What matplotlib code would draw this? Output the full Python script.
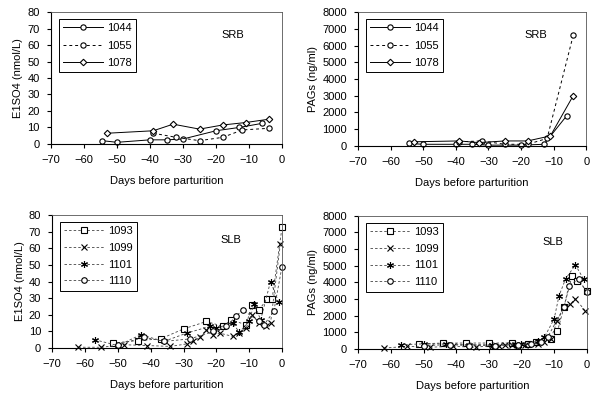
import matplotlib
matplotlib.use("Agg")
import matplotlib.pyplot as plt

plt.rcParams['font.family'] = 'Liberation Sans'
plt.rcParams['font.size'] = 8
plt.rcParams['axes.linewidth'] = 0.8

# --- SRB cows (top row) ---
srb_ids = ['1044', '1055', '1078']
srb_days = {
    '1044': [-54.5, -50, -40, -35, -30, -20, -13, -6],
    '1055': [-39, -32, -25, -18, -12, -4],
    '1078': [-53, -39, -33, -25, -18, -11, -4],
}
srb_e1so4 = {
    '1044': [2, 1, 2.5, 2.5, 3, 8, 10, 12.5],
    '1055': [6.5, 4, 2, 4, 8.5, 9.5],
    '1078': [6.5, 8, 12, 9, 11.5, 13, 15],
}
srb_pags = {
    '1044': [150, 100, 100, 100, 50, 50, 100, 1800],
    '1055': [250, 300, 100, 100, 450, 6600],
    '1078': [250, 300, 200, 300, 300, 600, 3000],
}

# --- SLB cows (bottom row) ---
slb_ids = ['1093', '1099', '1101', '1110']
slb_days = {
    '1093': [-51.5, -44, -37, -30, -23, -18, -15.5, -11, -9, -7, -4.5, -3, 0],
    '1099': [-62, -55, -48, -41, -34, -29, -27, -25, -23, -21, -19, -15, -13, -11, -9, -7, -5, -3.5, -0.5],
    '1101': [-57, -50, -43, -36, -29, -22, -20, -15, -13, -10, -8.5, -6.5, -3.5, -1],
    '1110': [-50, -42, -36, -28, -21, -17, -14, -12, -7, -5.5, -2.5, 0],
}
slb_e1so4 = {
    '1093': [3, 4.5, 5.5, 11.5, 16, 13, 17, 14, 26, 23, 29.5, 29.5, 72.5],
    '1099': [0.5, 0.5, 2, 1.5, 1, 2.5, 4, 6.5, 11, 8, 9, 7, 9, 12, 20, 15, 13, 15, 62.5],
    '1101': [5, 1.5, 8, 4, 9, 13, 12, 15, 9.5, 16, 26.5, 17, 40, 27.5],
    '1110': [2, 6.5, 4, 5.5, 10, 13, 19, 23, 16, 14, 22, 49],
}
slb_pags = {
    '1093': [300, 350, 350, 350, 350, 300, 400, 600, 1050, 2500, 4400, 4100, 3500],
    '1099': [50, 150, 100, 150, 100, 200, 150, 250, 250, 200, 250, 300, 400, 600, 1700, 2500, 2700, 3000, 2300],
    '1101': [250, 300, 300, 250, 250, 300, 300, 450, 700, 1800, 3200, 4200, 5050, 4200],
    '1110': [200, 250, 200, 200, 250, 300, 400, 700, 2500, 3800, 4200, 3400],
}

srb_style = {
    '1044': dict(ls='-', marker='o', ms=3.8),
    '1055': dict(ls=(0, (3, 3)), marker='o', ms=3.8),
    '1078': dict(ls='-', marker='D', ms=3.3),
}
slb_style = {
    '1093': dict(marker='s', ms=4),
    '1099': dict(marker='x', ms=5),
    '1101': dict(marker=(6, 2, 0), ms=5),
    '1110': dict(marker='o', ms=4),
}

fig = plt.figure(figsize=(6, 4.01), dpi=100)
ax_tl = fig.add_axes([0.085, 0.641, 0.385, 0.329])
ax_tr = fig.add_axes([0.597, 0.636, 0.380, 0.334])
ax_bl = fig.add_axes([0.087, 0.132, 0.383, 0.332])
ax_br = fig.add_axes([0.597, 0.130, 0.381, 0.332])


def setup(ax, ymax, ystep, ylabel):
    ax.set_xlim(-70, 0)
    ax.set_ylim(0, ymax)
    ax.set_xticks(range(-70, 1, 10))
    ax.set_yticks(range(0, ymax + 1, ystep))
    ax.set_xlabel('Days before parturition', labelpad=8)
    ax.set_ylabel(ylabel, labelpad=3)
    ax.tick_params(direction='out', length=3, width=0.8, pad=5)
    for s in ['top', 'right']:
        ax.spines[s].set_color('#555555')
        ax.spines[s].set_linewidth(0.6)


def draw_srb(ax, values):
    for cid in srb_ids:
        st = srb_style[cid]
        ax.plot(srb_days[cid], values[cid], color='black', lw=0.7,
                linestyle=st['ls'], marker=st['marker'], ms=st['ms'],
                mfc='white', mec='black', mew=0.8, label=cid, clip_on=False)


def draw_slb(ax, values):
    for cid in slb_ids:
        st = slb_style[cid]
        ax.plot(slb_days[cid], values[cid], color='#444444', lw=0.6,
                linestyle=(0, (3, 2.5)), marker=st['marker'], ms=st['ms'],
                mfc='white', mec='black', mew=0.8, label=cid, clip_on=False)


def legend(ax, n):
    lg = ax.legend(loc='upper left', bbox_to_anchor=(0.01, 0.99), handlelength=3.6,
                   fancybox=False, framealpha=1, edgecolor='black',
                   borderpad=0.4, labelspacing=0.65 if n == 3 else 0.6,
                   handletextpad=0.3, fontsize=8)
    lg.get_frame().set_linewidth(0.7)


setup(ax_tl, 80, 10, 'E1SO4 (nmol/L)')
draw_srb(ax_tl, srb_e1so4)
legend(ax_tl, 3)
ax_tl.text(-15, 66, 'SRB', ha='center', va='center')

setup(ax_tr, 8000, 1000, 'PAGs (ng/ml)')
draw_srb(ax_tr, srb_pags)
legend(ax_tr, 3)
ax_tr.text(-15.5, 6650, 'SRB', ha='center', va='center')

setup(ax_bl, 80, 10, 'E1SO4 (nmol/L)')
draw_slb(ax_bl, slb_e1so4)
legend(ax_bl, 4)
ax_bl.text(-15.5, 65, 'SLB', ha='center', va='center')

setup(ax_br, 8000, 1000, 'PAGs (ng/ml)')
draw_slb(ax_br, slb_pags)
legend(ax_br, 4)
ax_br.text(-10.5, 6450, 'SLB', ha='center', va='center')

fig.savefig('out.png', dpi=100)
